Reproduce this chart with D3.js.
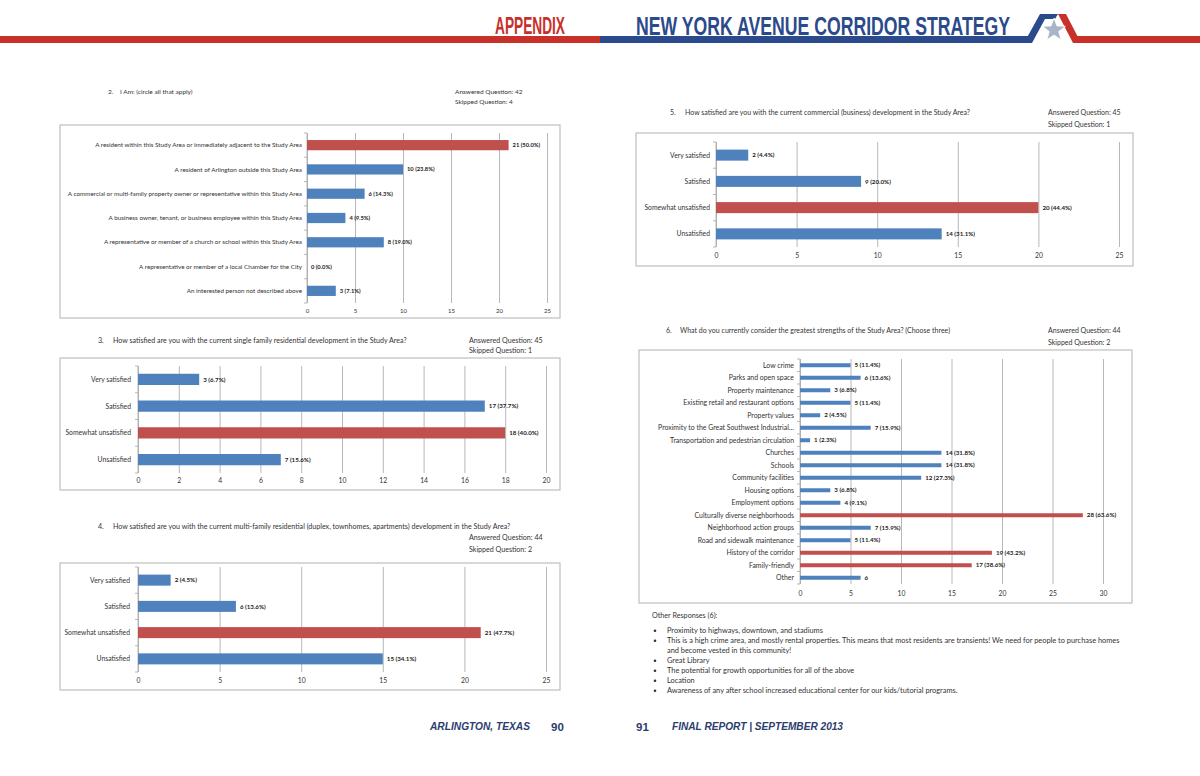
<!DOCTYPE html>
<html>
<head>
<meta charset="utf-8">
<script src="https://cdn.jsdelivr.net/npm/d3@7"></script>
<style>
  body { margin: 0; background: #fff; }
  text { font-family: Lato, "Open Sans", sans-serif; fill: #333; }
  .val { font-weight: bold; fill: #222; }
  .grid line { stroke: #a6a6a6; stroke-width: 0.8; }
  .grid .domain { display: none; }
</style>
</head>
<body>
<div id="page"></div>
<script>
// ---- data ----
var q2Cats = [
  "A resident within this Study Area or immediately adjacent to the Study Area",
  "A resident of Arlington outside this Study Area",
  "A commercial or multi-family property owner or representative within this Study Area",
  "A business owner, tenant, or business employee within this Study Area",
  "A representative or member of a church or school within this Study Area",
  "A representative or member of a local Chamber for the City",
  "An interested person not described above"
];
var q2Vals = [21, 10, 6, 4, 8, 0, 3];
var q2Labels = ["21 (50.0%)", "10 (23.8%)", "6 (14.3%)", "4 (9.5%)", "8 (19.0%)", "0 (0.0%)", "3 (7.1%)"];
var q2Red = [0];
var q2Ticks = [0, 5, 10, 15, 20, 25];

var satCats = ["Very satisfied", "Satisfied", "Somewhat unsatisfied", "Unsatisfied"];

var q3Vals = [3, 17, 18, 7];
var q3Labels = ["3 (6.7%)", "17 (37.7%)", "18 (40.0%)", "7 (15.6%)"];
var q3Red = [2];
var q3Ticks = [0, 2, 4, 6, 8, 10, 12, 14, 16, 18, 20];

var q4Vals = [2, 6, 21, 15];
var q4Labels = ["2 (4.5%)", "6 (13.6%)", "21 (47.7%)", "15 (34.1%)"];
var q4Red = [2];
var q4Ticks = [0, 5, 10, 15, 20, 25];

var q5Vals = [2, 9, 20, 14];
var q5Labels = ["2 (4.4%)", "9 (20.0%)", "20 (44.4%)", "14 (31.1%)"];
var q5Red = [2];
var q5Ticks = [0, 5, 10, 15, 20, 25];

var q6Cats = [
  "Low crime", "Parks and open space", "Property maintenance",
  "Existing retail and restaurant options", "Property values",
  "Proximity to the Great Southwest Industrial…",
  "Transportation and pedestrian circulation", "Churches", "Schools",
  "Community facilities", "Housing options", "Employment options",
  "Culturally diverse neighborhoods", "Neighborhood action groups",
  "Road and sidewalk maintenance", "History of the corridor",
  "Family-friendly", "Other"
];
var q6Vals = [5, 6, 3, 5, 2, 7, 1, 14, 14, 12, 3, 4, 28, 7, 5, 19, 17, 6];
var q6Labels = ["5 (11.4%)", "6 (13.6%)", "3 (6.8%)", "5 (11.4%)", "2 (4.5%)", "7 (15.9%)",
  "1 (2.3%)", "14 (31.8%)", "14 (31.8%)", "12 (27.3%)", "3 (6.8%)", "4 (9.1%)",
  "28 (63.6%)", "7 (15.9%)", "5 (11.4%)", "19 (43.2%)", "17 (38.6%)", "6"];
var q6Red = [12, 15, 16];
var q6Ticks = [0, 5, 10, 15, 20, 25, 30];

var otherResponses = [
  ["Proximity to highways, downtown, and stadiums"],
  ["This is a high crime area, and mostly rental properties. This means that most residents are transients! We need for people to purchase homes",
   "and become vested in this community!"],
  ["Great Library"],
  ["The potential for growth opportunities for all of the above"],
  ["Location"],
  ["Awareness of any after school increased educational center for our kids/tutorial programs."]
];

var blue = "#4f81bd", red = "#c0504d";

var svg = d3.select("#page").append("svg")
  .attr("width", 1200)
  .attr("height", 776);

svg.append("rect").attr("width", 1200).attr("height", 776).attr("fill", "#fff");

// ---- header ----
svg.append("rect").attr("x", 0).attr("y", 36).attr("width", 602).attr("height", 7).attr("fill", "#c8302a");
svg.append("rect").attr("x", 600).attr("y", 36).attr("width", 428).attr("height", 7).attr("fill", "#2b4a8b");
svg.append("rect").attr("x", 1076).attr("y", 36).attr("width", 124).attr("height", 7).attr("fill", "#c8302a");

svg.append("text")
  .attr("x", 495).attr("y", 34)
  .attr("textLength", 70).attr("lengthAdjust", "spacingAndGlyphs")
  .style("font-family", "'Liberation Sans', Arial, sans-serif")
  .style("font-size", "23px").style("font-weight", "bold").style("fill", "#c8302a")
  .text("APPENDIX");
svg.append("text")
  .attr("x", 636).attr("y", 35)
  .attr("textLength", 374).attr("lengthAdjust", "spacingAndGlyphs")
  .style("font-family", "'Liberation Sans', Arial, sans-serif")
  .style("font-size", "26px").style("font-weight", "bold").style("fill", "#2b4a8b")
  .text("NEW YORK AVENUE CORRIDOR STRATEGY");

// logo
svg.append("polygon")
  .attr("points", "1024,43 1040,14 1058,14 1055,19 1045,19 1032,43")
  .attr("fill", "#2b4a8b");
svg.append("polygon")
  .attr("points", "1058,14 1066,14 1081,43 1073,43")
  .attr("fill", "#c8302a");
var star = d3.range(10).map(function (i) {
  var r = i % 2 === 0 ? 12 : 5;
  var a = -Math.PI / 2 + i * Math.PI / 5;
  return [1054 + r * Math.cos(a), 30 + r * Math.sin(a)];
});
svg.append("polygon")
  .attr("points", star.map(function (p) { return p.join(","); }).join(" "))
  .attr("fill", "#aab4c8").attr("stroke", "#fff").attr("stroke-width", 0.8);

// ---- chart helper ----
function barChart(cfg) {
  var g = svg.append("g");

  // frame
  g.append("rect")
    .attr("x", cfg.box[0]).attr("y", cfg.box[1])
    .attr("width", cfg.box[2]).attr("height", cfg.box[3])
    .attr("fill", "#fff").attr("stroke", "#bfbfbf").attr("stroke-width", 1.2);

  var x = d3.scaleLinear()
    .domain([0, cfg.max])
    .range([cfg.plot[0], cfg.plot[1]]);

  var y = d3.scaleBand()
    .domain(cfg.cats)
    .range([cfg.plot[2], cfg.plot[3]])
    .paddingInner(cfg.pad)
    .paddingOuter(cfg.pad / 2);

  // gridlines + value axis
  var xAxis = d3.axisBottom(x)
    .tickValues(cfg.ticks)
    .tickSize(-(cfg.plot[3] - cfg.plot[2]))
    .tickPadding(cfg.tickPad);
  var ax = g.append("g")
    .attr("class", "grid")
    .attr("transform", "translate(0," + cfg.plot[3] + ")")
    .call(xAxis);
  ax.selectAll("text")
    .style("font-size", cfg.tickFont + "px")
    .style("fill", "#333");

  // category axis line and ticks between categories
  g.append("line")
    .attr("x1", x(0)).attr("x2", x(0))
    .attr("y1", cfg.plot[2]).attr("y2", cfg.plot[3])
    .attr("stroke", "#a6a6a6").attr("stroke-width", 0.8);
  var step = y.step();
  g.selectAll(".ctick")
    .data(d3.range(cfg.cats.length + 1))
    .enter().append("line")
    .attr("x1", x(0) - 3).attr("x2", x(0))
    .attr("y1", function (i) { return cfg.plot[2] + i * step; })
    .attr("y2", function (i) { return cfg.plot[2] + i * step; })
    .attr("stroke", "#a6a6a6").attr("stroke-width", 0.8);

  // bars
  g.selectAll(".bar")
    .data(cfg.vals)
    .enter().append("rect")
    .attr("x", x(0))
    .attr("y", function (d, i) { return y(cfg.cats[i]); })
    .attr("width", function (d) { return x(d) - x(0); })
    .attr("height", y.bandwidth())
    .attr("fill", function (d, i) { return cfg.red.indexOf(i) >= 0 ? red : blue; });

  // category labels
  g.selectAll(".cat")
    .data(cfg.cats)
    .enter().append("text")
    .attr("x", x(0) - cfg.catGap)
    .attr("y", function (d) { return y(d) + y.bandwidth() / 2; })
    .attr("dy", "0.35em")
    .attr("text-anchor", "end")
    .style("font-size", cfg.catFont + "px")
    .text(function (d) { return d; });

  // value labels
  g.selectAll(".val")
    .data(cfg.vals)
    .enter().append("text")
    .attr("class", "val")
    .attr("x", function (d) { return x(d) + 4; })
    .attr("y", function (d, i) { return y(cfg.cats[i]) + y.bandwidth() / 2; })
    .attr("dy", "0.35em")
    .style("font-size", cfg.valFont + "px")
    .text(function (d, i) { return cfg.labels[i]; });

  // question title and counts
  svg.append("text")
    .attr("x", cfg.title[0]).attr("y", cfg.title[1])
    .style("font-size", cfg.titleFont + "px")
    .text(cfg.num);
  svg.append("text")
    .attr("x", cfg.title[2]).attr("y", cfg.title[1])
    .style("font-size", cfg.titleFont + "px")
    .text(cfg.question);
  svg.append("text")
    .attr("x", cfg.counts[0]).attr("y", cfg.counts[1])
    .style("font-size", cfg.titleFont + "px")
    .text("Answered Question: " + cfg.answered);
  svg.append("text")
    .attr("x", cfg.counts[0]).attr("y", cfg.counts[2])
    .style("font-size", cfg.titleFont + "px")
    .text("Skipped Question: " + cfg.skipped);
}

barChart({
  box: [60, 125, 500, 193], plot: [307, 547, 133, 303],
  cats: q2Cats, vals: q2Vals, labels: q2Labels, red: q2Red, ticks: q2Ticks, max: 25,
  pad: 0.58, catFont: 6.3, valFont: 5.8, tickFont: 6, tickPad: 6, catGap: 5,
  title: [108, 94, 120], num: "2.", question: "I Am: (circle all that apply)", titleFont: 6.5,
  counts: [455, 94, 104], answered: 42, skipped: 4
});

barChart({
  box: [60, 358, 500, 132], plot: [138, 546, 366, 473],
  cats: satCats, vals: q3Vals, labels: q3Labels, red: q3Red, ticks: q3Ticks, max: 20,
  pad: 0.58, catFont: 6.8, valFont: 6.2, tickFont: 6.8, tickPad: 5, catGap: 7,
  title: [98, 343, 113], num: "3.",
  question: "How satisfied are you with the current single family residential development in the Study Area?", titleFont: 7.1,
  counts: [469, 343, 353], answered: 45, skipped: 1
});

barChart({
  box: [60, 563, 500, 127], plot: [138, 546, 567, 672],
  cats: satCats, vals: q4Vals, labels: q4Labels, red: q4Red, ticks: q4Ticks, max: 25,
  pad: 0.58, catFont: 6.8, valFont: 6.2, tickFont: 6.8, tickPad: 6, catGap: 8,
  title: [98, 529, 113], num: "4.",
  question: "How satisfied are you with the current multi-family residential (duplex, townhomes, apartments) development in the Study Area?", titleFont: 7.1,
  counts: [469, 540, 552], answered: 44, skipped: 2
});

barChart({
  box: [636, 133, 497, 133], plot: [716, 1119, 142, 247],
  cats: satCats, vals: q5Vals, labels: q5Labels, red: q5Red, ticks: q5Ticks, max: 25,
  pad: 0.58, catFont: 6.8, valFont: 6.2, tickFont: 6.8, tickPad: 6, catGap: 6,
  title: [670, 115, 685], num: "5.",
  question: "How satisfied are you with the current commercial (business) development in the Study Area?", titleFont: 7,
  counts: [1048, 115, 127], answered: 45, skipped: 1
});

barChart({
  box: [639, 350, 493, 253], plot: [800, 1103, 359, 584],
  cats: q6Cats, vals: q6Vals, labels: q6Labels, red: q6Red, ticks: q6Ticks, max: 30,
  pad: 0.68, catFont: 6.9, valFont: 6.2, tickFont: 6.8, tickPad: 7, catGap: 6,
  title: [666, 333, 680], num: "6.",
  question: "What do you currently consider the greatest strengths of the Study Area? (Choose three)", titleFont: 7,
  counts: [1048, 333, 345], answered: 44, skipped: 2
});

// ---- other responses ----
svg.append("text")
  .attr("x", 652).attr("y", 618)
  .style("font-size", "7.2px")
  .text("Other Responses (6):");

var lineY = 633;
otherResponses.forEach(function (item) {
  svg.append("circle")
    .attr("cx", 655).attr("cy", lineY - 2.3).attr("r", 1.3)
    .attr("fill", "#333");
  item.forEach(function (line) {
    svg.append("text")
      .attr("x", 667).attr("y", lineY)
      .style("font-size", "7.4px")
      .text(line);
    lineY += 10;
  });
});

// ---- footer ----
var footFont = "'Liberation Sans', Arial, sans-serif";
svg.append("text")
  .attr("x", 430).attr("y", 730)
  .attr("textLength", 100).attr("lengthAdjust", "spacingAndGlyphs")
  .style("font-family", footFont).style("font-size", "10px")
  .style("font-weight", "bold").style("font-style", "italic").style("fill", "#2b3d6e")
  .text("ARLINGTON, TEXAS");
svg.append("text")
  .attr("x", 551).attr("y", 731)
  .style("font-family", footFont).style("font-size", "11.5px")
  .style("font-weight", "bold").style("fill", "#2b3d6e")
  .text("90");
svg.append("text")
  .attr("x", 636).attr("y", 731)
  .style("font-family", footFont).style("font-size", "11.5px")
  .style("font-weight", "bold").style("fill", "#2b3d6e")
  .text("91");
svg.append("text")
  .attr("x", 672).attr("y", 730)
  .attr("textLength", 171).attr("lengthAdjust", "spacingAndGlyphs")
  .style("font-family", footFont).style("font-size", "10px")
  .style("font-weight", "bold").style("font-style", "italic").style("fill", "#2b3d6e")
  .text("FINAL REPORT | SEPTEMBER 2013");
</script>
</body>
</html>
